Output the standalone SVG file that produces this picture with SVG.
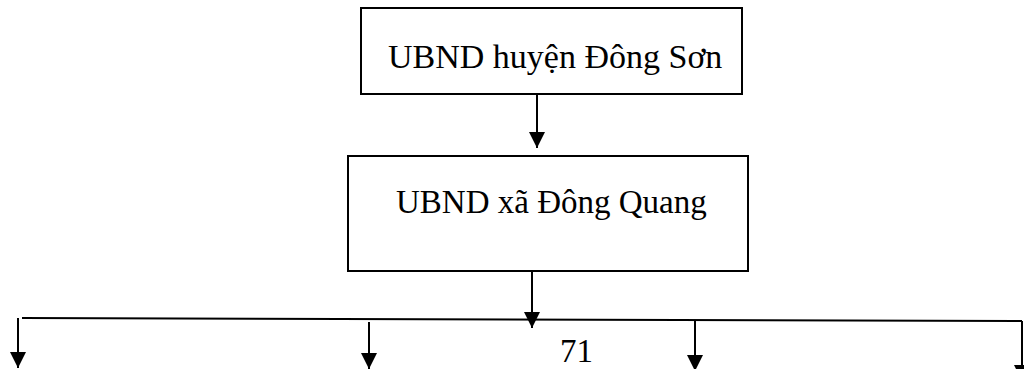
<svg xmlns="http://www.w3.org/2000/svg" width="1024" height="369" viewBox="0 0 1024 369">
<style>
.box{fill:#fff;stroke:#000;stroke-width:2}
.lbl{font-size:33px;fill:#000}
.ln{stroke:#000;stroke-width:2;fill:none}
.arr{stroke:#000;stroke-width:2;fill:none;marker-end:url(#ah)}
</style>
<defs>
<marker id="ah" viewBox="0 0 16 16" refX="16" refY="8" markerWidth="16" markerHeight="16" markerUnits="userSpaceOnUse" orient="auto">
<path d="M0,0 L16,8 L0,16 z" fill="#000"/>
</marker>
</defs>
<rect width="1024" height="369" fill="#fff"/>
<g id="node-huyen">
<rect class="box" x="361" y="8" width="381" height="86"/>
<text class="lbl" font-family="Liberation Serif" font-size="34" style="font-size:34px" x="388" y="68">UBND huyện Đông Sơn</text>
</g>
<g id="node-xa">
<rect class="box" x="348" y="156" width="400" height="115"/>
<text class="lbl" font-family="Liberation Serif" x="396" y="213">UBND xã Đông Quang</text>
</g>
<g id="page-number">
<text class="lbl" font-family="Liberation Serif" x="560" y="362">71</text>
</g>
<g id="connectors">
<line class="arr" x1="537" y1="94" x2="537" y2="148"/>
<line class="arr" x1="532" y1="271" x2="532" y2="328"/>
<line class="ln" x1="22" y1="318" x2="1022" y2="321"/>
<line class="arr" x1="18" y1="318" x2="18" y2="368"/>
<line class="arr" x1="369" y1="322" x2="369" y2="369"/>
<line class="arr" x1="695" y1="321" x2="695" y2="371"/>
<line class="arr" x1="1022" y1="321" x2="1022" y2="381"/>
</g>
</svg>
